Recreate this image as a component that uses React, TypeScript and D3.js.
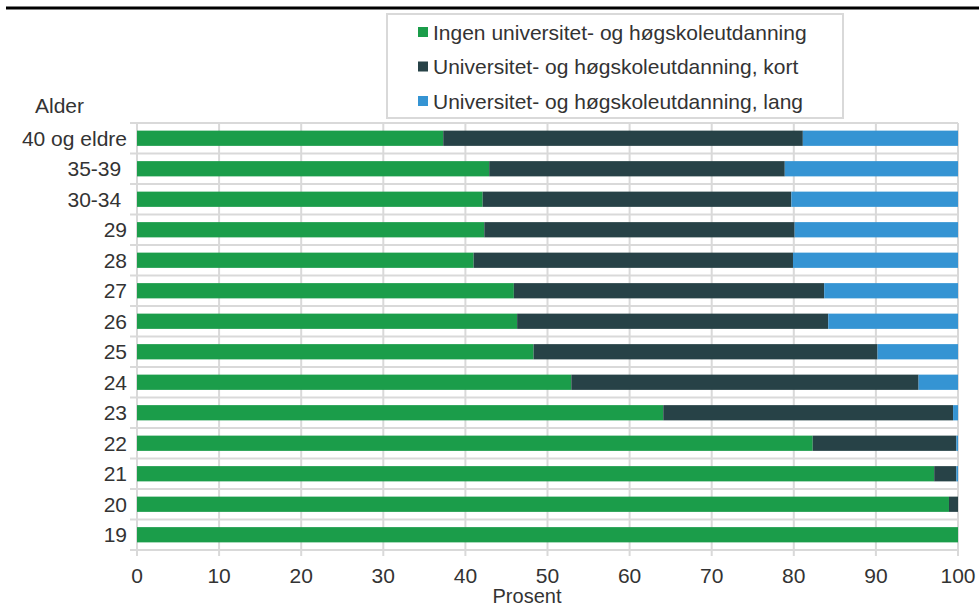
import React from "react";
import * as d3 from "d3";

const categories = ["40 og eldre", "35-39 ", "30-34 ", "29", "28", "27", "26", "25", "24", "23", "22", "21", "20", "19"];
const ingen = [37.3, 42.9, 42.1, 42.3, 41.0, 45.9, 46.3, 48.3, 52.9, 64.1, 82.3, 97.1, 98.9, 100];
const kort = [43.8, 36.0, 37.6, 37.8, 38.9, 37.8, 37.9, 41.9, 42.3, 35.3, 17.5, 2.7, 1.1, 0];
const lang = [18.9, 21.1, 20.3, 19.9, 20.1, 16.3, 15.8, 9.8, 4.8, 0.6, 0.2, 0.2, 0, 0];
const seriesNames = [
  "Ingen universitet- og høgskoleutdanning",
  "Universitet- og høgskoleutdanning, kort",
  "Universitet- og høgskoleutdanning, lang",
];
const seriesColors = ["#1b9d4a", "#274247", "#3594d3"];
const xTicks = [0, 10, 20, 30, 40, 50, 60, 70, 80, 90, 100];

const W = 979;
const H = 608;
const FONT = "'Liberation Sans', Arial, sans-serif";
const TEXT = "#333333";
const GRID = "#d9d9d9";

export default function App() {
  const x = d3.scaleLinear().domain([0, 100]).range([137, 958]);
  const y = d3.scaleBand<string>().domain(categories).range([123, 550]).paddingInner(0.5).paddingOuter(0.25);
  const step = y.step();
  const rows = categories.map((c, i) => ({ cat: c, s0: ingen[i], s1: kort[i], s2: lang[i] }));
  const stack = d3.stack<any>().keys(["s0", "s1", "s2"]);
  const stacked = stack(rows);
  const boundaries = d3.range(categories.length + 1).map((i) => y.range()[0] + i * step);
  const [x0, x1] = x.range();
  const yBottom = y.range()[1];

  return (
    <svg width={W} height={H} style={{ position: "absolute", left: 0, top: 0, background: "#fff" }} fontFamily={FONT}>
      <rect x={0} y={0} width={W} height={H} fill="#fff" />
      <line x1={6} x2={W} y1={8} y2={8} stroke="#000" strokeWidth={3} />
      {/* grid */}
      {xTicks.map((t) => (
        <line key={"vx" + t} x1={x(t)} x2={x(t)} y1={y.range()[0]} y2={yBottom + 6} stroke={GRID} strokeWidth={2} />
      ))}
      {boundaries.map((b, i) => (
        <line key={"hb" + i} x1={x0 - 7} x2={x1} y1={b} y2={b} stroke={GRID} strokeWidth={2} />
      ))}
      {/* bars */}
      {stacked.map((layer, si) =>
        layer.map((d, i) => {
          const w = x(d[1]) - x(d[0]);
          if (w <= 0) return null;
          return (
            <rect
              key={si + "-" + i}
              x={x(d[0])}
              y={y(categories[i])}
              width={w}
              height={y.bandwidth()}
              fill={seriesColors[si]}
            />
          );
        })
      )}
      {/* y labels */}
      {categories.map((c) => (
        <text
          key={"yl" + c}
          x={127}
          y={(y(c) as number) + y.bandwidth() / 2 + 7.5}
          textAnchor="end"
          fontSize={21}
          fill={TEXT}
          style={{ whiteSpace: "pre" }}
        >
          {c}
        </text>
      ))}
      {/* x labels */}
      {xTicks.map((t) => (
        <text key={"xl" + t} x={x(t)} y={583} textAnchor="middle" fontSize={21} fill={TEXT}>
          {t}
        </text>
      ))}
      <text x={527} y={603} textAnchor="middle" fontSize={20} fill={TEXT}>
        Prosent
      </text>
      <text x={35} y={113} fontSize={21} fill={TEXT}>
        Alder
      </text>
      {/* legend */}
      <rect x={387} y={14} width={456} height={104} fill="#fff" stroke={GRID} strokeWidth={2} />
      {seriesNames.map((n, i) => (
        <g key={"lg" + i}>
          <rect x={418} y={27 + i * 34.5} width={10} height={10} fill={seriesColors[i]} />
          <text x={433} y={32 + i * 34.5 + 7.5} fontSize={21} fill={TEXT}>
            {n}
          </text>
        </g>
      ))}
    </svg>
  );
}
